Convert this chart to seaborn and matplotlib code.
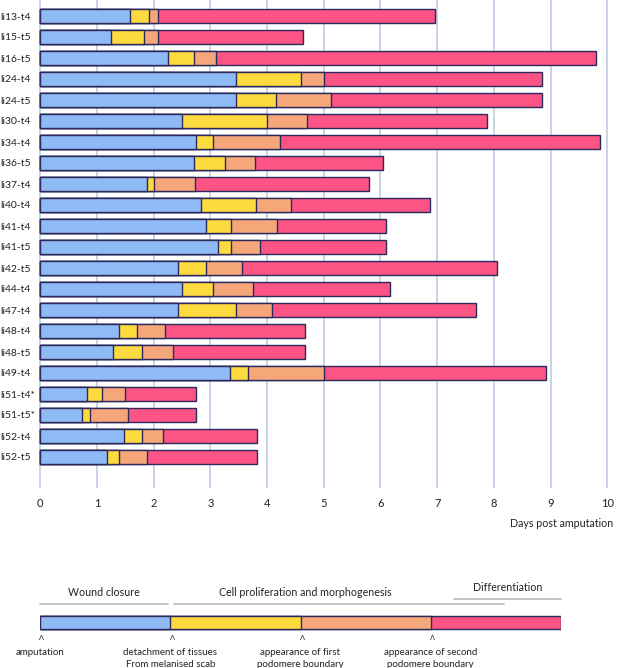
import numpy as np
import pandas as pd
import matplotlib
matplotlib.use("Agg")
import matplotlib.pyplot as plt
import matplotlib.transforms as mtransforms
import seaborn as sns

# ---------------- data ----------------
samples = ["li13-t4", "li15-t5", "li16-t5", "li24-t4", "li24-t5", "li30-t4", "li34-t4",
           "li36-t5", "li37-t4", "li40-t4", "li41-t4", "li41-t5", "li42-t5", "li44-t4",
           "li47-t4", "li48-t4", "li48-t5", "li49-t4", "li51-t4*", "li51-t5*", "li52-t4", "li52-t5"]
# day at which each stage ends (cumulative, days post amputation)
t_detachment = [1.58, 1.25, 2.25, 3.46, 3.46, 2.50, 2.75, 2.71, 1.88, 2.84, 2.93,
                3.13, 2.42, 2.50, 2.42, 1.38, 1.29, 3.34, 0.83, 0.74, 1.47, 1.17]
t_first_boundary = [1.92, 1.83, 2.71, 4.59, 4.16, 4.00, 3.04, 3.25, 2.00, 3.80, 3.37,
                    3.37, 2.92, 3.04, 3.46, 1.71, 1.80, 3.67, 1.08, 0.87, 1.80, 1.38]
t_second_boundary = [2.08, 2.08, 3.09, 5.00, 5.13, 4.71, 4.22, 3.79, 2.72, 4.43, 4.17,
                     3.88, 3.55, 3.76, 4.09, 2.20, 2.34, 5.00, 1.50, 1.54, 2.16, 1.88]
t_end = [6.97, 4.63, 9.80, 8.84, 8.84, 7.88, 9.88, 6.05, 5.80, 6.88, 6.09,
         6.09, 8.05, 6.17, 7.68, 4.67, 4.67, 8.92, 2.75, 2.75, 3.83, 3.83]
x_ticks = list(range(0, 11))

# schematic (legend) bar
stage_ends = [1, 2, 3, 4]
event_labels = ["amputation", "detachment of tissues\nFrom melanised scab",
                "appearance of first\npodomere boundary", "appearance of second\npodomere boundary"]
phase_labels = ["Wound closure", "Cell proliferation and morphogenesis", "Differentiation"]

# ---------------- style ----------------
sns.set_style("white")
plt.rcParams["font.family"] = ["Lato", "DejaVu Sans"]
BLUE, YELLOW, ORANGE, PINK = "#8ebaf6", "#fdda3e", "#f6a77a", "#fc5484"
EDGE = "#2c2a5c"
GRID = "#b9c7e2"
TXT = "#222222"

W, H = 617, 668
fig = plt.figure(figsize=(W / 100, H / 100), dpi=100)

def fx(px):
    return px / W

def fy(py):
    return 1 - py / H

# ---------------- main chart ----------------
ppd = 56.7  # px per day
x0 = 40.3
ext = 0.06
ax_left = x0 - ext * ppd
ax = fig.add_axes([fx(ax_left), fy(488), fx((10 + 2 * ext) * ppd), 488 / H])

df = pd.DataFrame({"sample": samples, "detach": t_detachment, "first": t_first_boundary,
                   "second": t_second_boundary, "end": t_end})

for col, colr in [("end", PINK), ("second", ORANGE), ("first", YELLOW), ("detach", BLUE)]:
    sns.barplot(data=df, x=col, y="sample", orient="h", color=colr, saturation=1,
                edgecolor=EDGE, linewidth=1.0, width=0.63, ax=ax, zorder=3)

ax.set_xlim(-ext, 10 + ext)
ax.set_ylim((488 - 16) / 21, -16 / 21)
ax.set_xticks(x_ticks)
ax.set_xticklabels([str(t) for t in x_ticks])
ax.grid(axis="x", color=GRID, linewidth=1.1, zorder=0)
ax.grid(axis="y", visible=False)
ax.set_axisbelow(True)
for s in ax.spines.values():
    s.set_visible(False)
ax.tick_params(axis="x", length=0, pad=7, labelsize=8, labelcolor=TXT)
ax.tick_params(axis="y", length=0, pad=(ax_left - 0.5) * 0.72, labelsize=7.5, labelcolor=TXT)
for lab in ax.get_yticklabels():
    lab.set_horizontalalignment("left")
ax.set_xlabel("")
ax.set_ylabel("")

fig.text(fx(613), fy(523.7), "Days post amputation", ha="right", va="center",
         fontsize=7.7, color=TXT)

# ---------------- schematic ----------------
ax2 = fig.add_axes([fx(40.3), fy(635.2), fx(520.4), 26 / H])
sch = pd.DataFrame({"stage": ["s"] * 4, "end": stage_ends})
for i, colr in zip([3, 2, 1, 0], [PINK, ORANGE, YELLOW, BLUE]):
    sns.barplot(x=[sch["end"][i]], y=["s"], orient="h", color=colr, saturation=1,
                edgecolor=EDGE, linewidth=1.0, width=0.5, ax=ax2)
ax2.set_xlim(0, 4)
ax2.set_ylim(0.5, -0.5)
ax2.axis("off")

tr = mtransforms.blended_transform_factory(ax2.transData, fig.transFigure)
unit = 130.1
def ux(px):
    return (px - 40.3) / unit

# phase lines
ax2.plot([ux(40.3), ux(167.7)], [fy(604), fy(604)], transform=tr, color="#bfbfbf", lw=1.3, clip_on=False)
ax2.plot([ux(173.7), ux(504.3)], [fy(604), fy(604)], transform=tr, color="#bfbfbf", lw=1.3, clip_on=False)
ax2.plot([ux(454.3), ux(560.7)], [fy(598.7), fy(598.7)], transform=tr, color="#bfbfbf", lw=1.3, clip_on=False)

ax2.text(ux(103.7), fy(592.7), phase_labels[0], transform=tr, ha="center", va="center", fontsize=7.7, color=TXT)
ax2.text(ux(305.0), fy(592.7), phase_labels[1], transform=tr, ha="center", va="center", fontsize=7.7, color=TXT)
ax2.text(ux(507.3), fy(587.7), phase_labels[2], transform=tr, ha="center", va="center", fontsize=7.7, color=TXT)

for i, lab in enumerate(event_labels):
    xs = i  # event at start of each stage
    ax2.text(xs + 0.012, fy(640.3), "Λ", transform=tr, ha="center", va="baseline",
             fontsize=5.2, color=TXT, family=["DejaVu Sans"])
    for j, line in enumerate(lab.split("\n")):
        ax2.text(xs, fy(655.0 + 11.6 * j), line, transform=tr, ha="center", va="baseline",
                 fontsize=7.0, color=TXT)

fig.savefig("out.png", dpi=100)
